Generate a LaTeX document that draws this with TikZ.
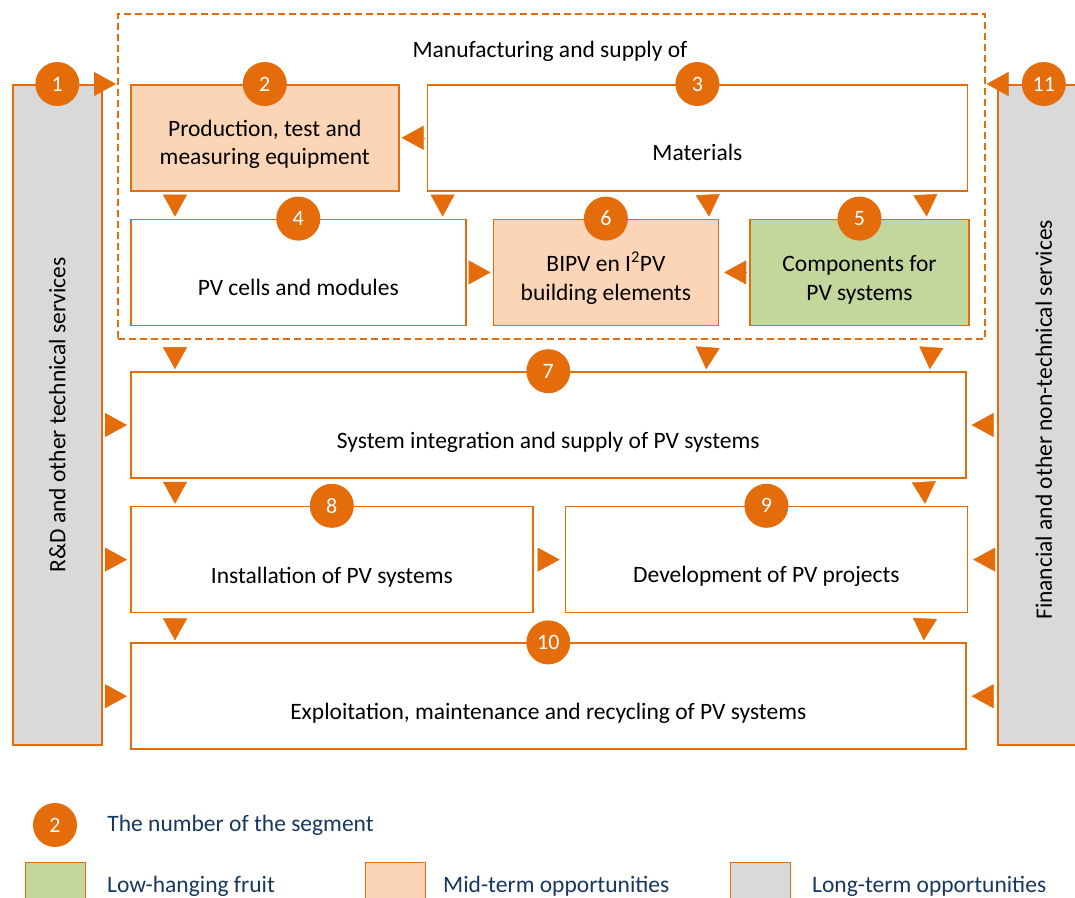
\documentclass[tikz,border=0pt]{standalone}
\usepackage{fontspec}
\setmainfont{Carlito}
\usetikzlibrary{positioning,arrows.meta}
\definecolor{segorange}{HTML}{E46C0A}
\definecolor{midterm}{HTML}{FBD5B5}
\definecolor{lowfruit}{HTML}{C3D69B}
\definecolor{longterm}{HTML}{D9D9D9}
\definecolor{legendblue}{HTML}{17375E}

\begin{document}
\begin{tikzpicture}[x=1pt, y=-1pt,
box/.style={rectangle,draw=segorange,line width=1.6pt,inner sep=0pt,minimum height=106pt,anchor=north west},
side/.style={rectangle,draw=segorange,line width=1.6pt,fill=longterm,inner sep=0pt,minimum height=660pt,anchor=north west},
group/.style={rectangle,draw=segorange,line width=1.5pt,dash pattern=on 7pt off 4pt,inner sep=0pt,anchor=north west},
num/.style={circle,fill=segorange,text=white,inner sep=0pt,minimum size=44pt,font=\fontsize{22}{22}\selectfont},
txt/.style={align=center,inner sep=0pt,anchor=base,font=\fontsize{23.5}{28.5}\selectfont},
legtxt/.style={inner sep=0pt,anchor=base west,text=legendblue,font=\fontsize{23.5}{28.5}\selectfont},
legbox/.style={rectangle,draw=segorange,line width=1.2pt,inner sep=0pt,minimum size=60pt,anchor=north west},
flow/.style={draw=segorange,line width=0.4pt,-{Triangle[length=22pt,width=24pt]},shorten >=2pt,shorten <=3pt}
]
\useasboundingbox (0,0) rectangle (1075,897);
\clip (0,0) rectangle (1075,897);

%create nodes
\node[group, minimum width=867pt, minimum height=325pt] (mfg) at (117,13) {};
\node[txt] (mfgt) at (550,57) {Manufacturing and supply of};

\node[side, minimum width=89pt] (bar1) at (12,84) {};
\node[side, minimum width=92pt] (bar11) at (997,84) {};

\node[box, fill=midterm, minimum width=268pt] (b2) at (130,84) {};
\node[box, minimum width=540pt, right=27pt of b2] (b3) {};

\node[box, minimum width=335pt, below=27pt of b2.south west, anchor=north west] (b4) {};
\node[box, fill=midterm, minimum width=225pt, right=26pt of b4] (b6) {};
\node[box, fill=lowfruit, minimum width=219pt, right=30pt of b6] (b5) {};

\node[box, minimum width=835pt, below=45pt of b4.south west, anchor=north west] (b7) {};

\node[box, minimum width=402pt, below=27pt of b7.south west, anchor=north west] (b8) {};
\node[box, minimum width=402pt, right=31pt of b8] (b9) {};

\node[box, minimum width=835pt, below=29pt of b8.south west, anchor=north west] (b10) {};

%texts
\node[txt, anchor=center, rotate=90] (t1) at (bar1.center) {R\&D and other technical services};
\node[txt, anchor=center, rotate=90] (t11) at ([yshift=-5pt]bar11.center) {Financial and other non-technical services};
\node[txt] (t2) at ([yshift=-27pt]b2.center) {Production, test and\\measuring equipment};
\node[txt] (t3) at ([yshift=-23pt]b3.center) {Materials};
\node[txt] (t4) at ([yshift=-23pt]b4.center) {PV cells and modules};
\node[txt] (t6) at ([yshift=-28pt]b6.center) {BIPV en I\textsuperscript{2}PV\\building elements};
\node[txt] (t5) at ([yshift=-28pt]b5.center) {Components for\\PV systems};
\node[txt] (t7) at ([yshift=-23pt]b7.center) {System integration and supply of PV systems};
\node[txt] (t8) at ([yshift=-24pt]b8.center) {Installation of PV systems};
\node[txt] (t9) at ([yshift=-23pt]b9.center) {Development of PV projects};
\node[txt] (t10) at ([yshift=-23pt]b10.center) {Exploitation, maintenance and recycling of PV systems};

%segment numbers
\node[num] (n1) at (bar1.north) {1};
\node[num] (n11) at (bar11.north) {11};
\node[num] (n2) at (b2.north) {2};
\node[num] (n3) at (b3.north) {3};
\node[num] (n4) at (b4.north) {4};
\node[num] (n6) at (b6.north) {6};
\node[num] (n5) at (b5.north) {5};
\node[num] (n7) at (b7.north) {7};
\node[num] (n8) at (b8.north) {8};
\node[num] (n9) at (b9.north) {9};
\node[num] (n10) at (b10.north) {10};

%draw paths
\draw[flow, shorten >=1pt, shorten <=1pt] ([xshift=-8pt]bar1.north east) -- (mfg.west |- bar1.north);
\draw[flow, shorten >=1pt, shorten <=0pt] ([xshift=10pt]bar11.north west) -- (mfg.east |- bar11.north);

\draw[flow] (b3.west) -- (b2.east);
\draw[flow, shorten <=2pt] (b4.east) -- (b6.west);
\draw[flow, shorten >=5pt] (b5.west) -- (b6.east);

\draw[flow] ([xshift=45pt]b2.south west) -- ([xshift=45pt]b4.north west);
\draw[flow] ([xshift=16pt]b3.south west) -- ([xshift=-24pt]b4.north east);
\draw[flow] ([xshift=281pt]b3.south west) -- ([xshift=-10pt]b6.north east);
\draw[flow] ([xshift=-43pt]b3.south east) -- ([xshift=-43pt]b5.north east);

\draw[flow, shorten <=21pt] ([xshift=45pt]b4.south west) -- ([xshift=45pt]b7.north west);
\draw[flow, shorten <=21pt] ([xshift=-10pt]b6.south east) -- ([xshift=576pt]b7.north west);
\draw[flow, shorten <=21pt] ([xshift=-37pt]b5.south east) -- ([xshift=-37pt]b7.north east);

\draw[flow] ([xshift=45pt]b7.south west) -- ([xshift=45pt]b8.north west);
\draw[flow] ([xshift=-43pt]b7.south east) -- ([xshift=-43pt]b9.north east);
\draw[flow, shorten >=5pt, shorten <=4pt] (b8.east) -- (b9.west);

\draw[flow, shorten <=5pt] ([xshift=45pt]b8.south west) -- ([xshift=45pt]b10.north west);
\draw[flow, shorten <=5pt] ([xshift=-43pt]b9.south east) -- ([xshift=-43pt]b10.north east);

%services to segments
\draw[flow, shorten >=3pt, shorten <=4pt] (bar1.east |- b7.west) -- (b7.west);
\draw[flow, shorten >=3pt, shorten <=4pt] (bar1.east |- b8.west) -- (b8.west);
\draw[flow, shorten >=3pt, shorten <=4pt] (bar1.east |- b10.west) -- (b10.west);
\draw[flow, shorten >=5pt, shorten <=5pt] (bar11.west |- b7.east) -- (b7.east);
\draw[flow, shorten >=5pt, shorten <=5pt] (bar11.west |- b9.east) -- (b9.east);
\draw[flow, shorten >=5pt, shorten <=5pt] (bar11.west |- b10.east) -- (b10.east);

%legend
\node[num] (legnum) at (55,825) {2};
\node[legtxt, right=30pt of legnum] (legnumt) {The number of the segment};
\node[legbox, fill=lowfruit] (lg1) at (25,862) {};
\node[legbox, fill=midterm] (lg2) at (365,862) {};
\node[legbox, fill=longterm] (lg3) at (730,862) {};
\node[legtxt] (lg1t) at (107,892) {Low-hanging fruit};
\node[legtxt] (lg2t) at (443,892) {Mid-term opportunities};
\node[legtxt] (lg3t) at (812,892) {Long-term opportunities};

\end{tikzpicture}
\end{document}
